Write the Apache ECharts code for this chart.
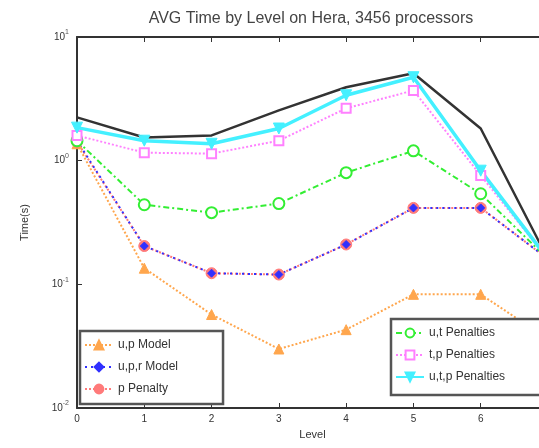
<!DOCTYPE html>
<html><head><meta charset="utf-8">
<script src="https://cdn.jsdelivr.net/npm/echarts@6/dist/echarts.min.js"></script>
<style>html,body{margin:0;padding:0;background:#fff}#c{width:539px;height:448px}</style>
</head><body><div id="c"></div>
<script>
var levels = [0, 1, 2, 3, 4, 5, 6, 7];
var yTicks = [0.01, 0.1, 1, 10];
var totalTime = [2.24, 1.54, 1.60, 2.55, 3.92, 5.1, 1.82, 0.16];
var upModel = [1.37, 0.135, 0.057, 0.030, 0.043, 0.083, 0.083, 0.036];
var uprModel = [1.45, 0.204, 0.123, 0.120, 0.21, 0.415, 0.415, 0.16];
var pPenalty = [1.42, 0.204, 0.123, 0.120, 0.21, 0.415, 0.415, 0.16];
var utPenalties = [1.45, 0.44, 0.38, 0.45, 0.80, 1.2, 0.54, 0.16];
var tpPenalties = [1.6, 1.16, 1.14, 1.45, 2.65, 3.7, 0.76, 0.16];
var utpPenalties = [1.85, 1.45, 1.37, 1.82, 3.38, 4.73, 0.83, 0.16];

function pairs(v){ return levels.map(function(x,i){ return [x, v[i]]; }); }
var FONT = 'Liberation Sans, Arial, sans-serif';
function mk(name, data, color, symbol, type, width, size, hollow){
  return {
    name: name, type: 'line', data: pairs(data), symbol: symbol, symbolSize: size,
    lineStyle: {color: color, width: width, type: type},
    itemStyle: {color: hollow ? '#fff' : color, borderColor: color, borderWidth: hollow ? 2 : 1},
    z: 3
  };
}
var chart = echarts.init(document.getElementById('c'), null, {renderer: 'canvas'});
chart.setOption({
  animation: false,
  title: {text: 'AVG Time by Level on Hera, 3456 processors', left: 306, textAlign: 'center', top: 6,
    textStyle: {fontSize: 16, fontWeight: 'normal', color: '#444', fontFamily: FONT}},
  grid: {left: 77, top: 37, width: 471, height: 371, outerBoundsMode: 'none', containLabel: false},
  xAxis: [{
    type: 'value', min: 0, max: 7, interval: 1, name: 'Level', nameLocation: 'middle', nameGap: 21,
    nameTextStyle: {fontSize: 11, color: '#333', fontFamily: FONT},
    axisLine: {lineStyle: {color: '#333', width: 2}},
    axisTick: {inside: true, length: 5, lineStyle: {color: '#333'}},
    axisLabel: {fontSize: 10, color: '#333', margin: 6, fontFamily: FONT},
    splitLine: {show: false}
  }, {
    type: 'value', min: 0, max: 7, interval: 1, position: 'top',
    axisLine: {lineStyle: {color: '#333', width: 2}},
    axisTick: {inside: true, length: 5, lineStyle: {color: '#333'}},
    axisLabel: {show: false}, splitLine: {show: false}
  }],
  yAxis: [{
    type: 'log', logBase: 10, min: 0.01, max: 10, name: 'Time(s)', nameLocation: 'middle', nameGap: 47,
    nameTextStyle: {fontSize: 11, color: '#333', fontFamily: FONT},
    axisLine: {show: true, lineStyle: {color: '#333', width: 2}},
    axisTick: {inside: true, length: 5, lineStyle: {color: '#333'}},
    minorTick: {show: false},
    axisLabel: {margin: 8, fontFamily: FONT,
      formatter: function(v){ var e = Math.round(Math.log10(v)); return '{b|10}{s|' + e + '}'; },
      rich: {b: {fontSize: 10, color: '#333', fontFamily: FONT}, s: {fontSize: 7, color: '#555', verticalAlign: 'top', padding: [0,0,9,0], fontFamily: FONT}}},
    splitLine: {show: false}
  }],
  legend: [{
    data: ['u,p Model', 'u,p,r Model', 'p Penalty'],
    orient: 'vertical', left: 80, top: 331, itemGap: 10, itemWidth: 28, itemHeight: 11,
    padding: [8, 45, 9, 4], backgroundColor: '#fff', borderColor: '#555', borderWidth: 2.5, borderRadius: 0,
    textStyle: {fontSize: 12, color: '#333', fontFamily: FONT}
  }, {
    data: ['u,t Penalties', 't,p Penalties', 'u,t,p Penalties'],
    orient: 'vertical', left: 391, top: 319, itemGap: 10, itemWidth: 28, itemHeight: 11,
    padding: [8, 40, 12, 4], backgroundColor: '#fff', borderColor: '#555', borderWidth: 2.5, borderRadius: 0,
    textStyle: {fontSize: 12, color: '#333', fontFamily: FONT}
  }],
  series: [
    {name: 'Total', type: 'line', data: pairs(totalTime), symbol: 'none', lineStyle: {color: '#333', width: 2.5}, z: 2},
    mk('u,p Model', upModel, '#ffa64d', 'triangle', 'dotted', 2, 10, false),
    mk('p Penalty', pPenalty, '#ff7a7a', 'circle', 'dotted', 2, 11, false),
    mk('u,p,r Model', uprModel, '#3030ff', 'diamond', [2, 4], 2, 8, false),
    mk('u,t Penalties', utPenalties, '#33ee33', 'circle', [6, 3, 2, 3], 2, 11, true),
    mk('t,p Penalties', tpPenalties, '#ff80ff', 'rect', 'dotted', 2, 9, true),
    mk('u,t,p Penalties', utpPenalties, '#44f0ff', 'path://M0,0L10,0L5,9Z', 'solid', 3.5, 11, false)
  ]
});
</script></body></html>
